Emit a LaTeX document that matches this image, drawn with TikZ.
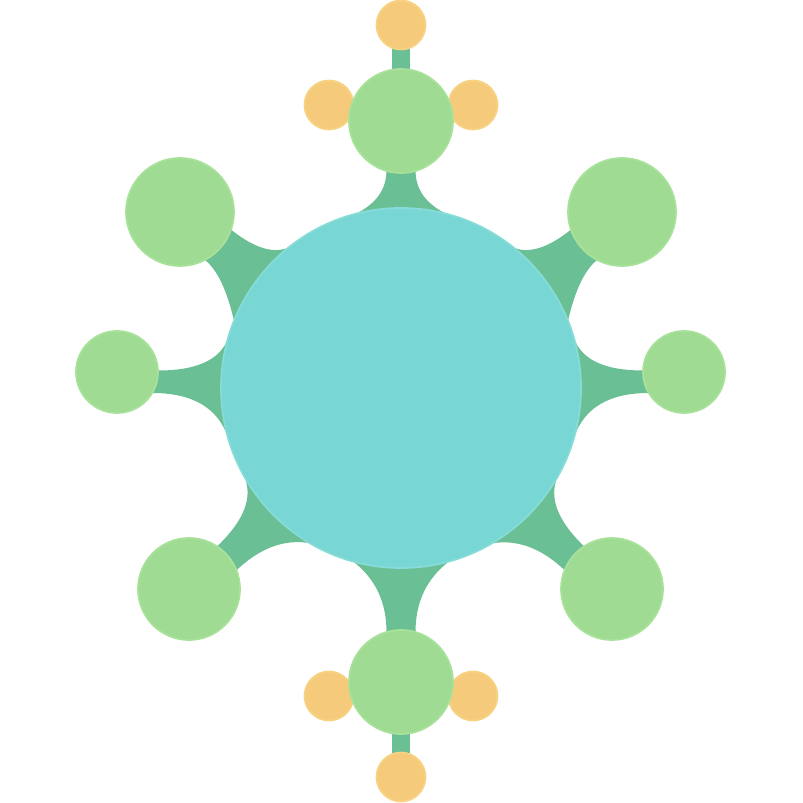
\documentclass[tikz,border=0pt]{standalone}
\definecolor{hubc}{HTML}{78D6D4}
\definecolor{hubedge}{HTML}{86DCD6}
\definecolor{leafc}{HTML}{A0DB93}
\definecolor{leafedge}{HTML}{A8E19A}
\definecolor{linkcol}{HTML}{6BBF94}
\definecolor{budc}{HTML}{F5CA7B}
\definecolor{budedge}{HTML}{F8D283}
\tikzset{
  hub/.style={circle, inner sep=0pt, outer sep=0pt, fill=hubc, draw=hubedge, line width=0.5pt, minimum size=3.6cm},
  leaf/.style={circle, inner sep=0pt, outer sep=0pt, fill=leafc, draw=leafedge, line width=0.5pt},
  bud/.style={circle, inner sep=0pt, outer sep=0pt, fill=budc, draw=budedge, line width=0.5pt, minimum size=0.49cm},
  linkfill/.style={fill=linkcol},
}
% flared bridge from the hub towards a satellite (all lengths in px, 100px = 1cm)
% #1 direction; side A (left of direction): #2 start along, #3 half width, #4 offset on hub, #5 control shift;
% side B (right of direction): #6..#9 the same
\newcommand\hubbridge[9]{%
  \pgfmathsetmacro\LA{#2/100}\pgfmathsetmacro\wA{#3/100}\pgfmathsetmacro\oA{#4/100}\pgfmathsetmacro\sA{#5/100}%
  \pgfmathsetmacro\LB{#6/100}\pgfmathsetmacro\wB{#7/100}\pgfmathsetmacro\oB{#8/100}\pgfmathsetmacro\sB{#9/100}%
  \pgfmathsetmacro\tA{sqrt(3.24-\oA*\oA)}\pgfmathsetmacro\tB{sqrt(3.24-\oB*\oB)}%
  \pgfmathsetmacro\qA{\tA+\sA}\pgfmathsetmacro\qB{\tB+\sB}%
  \pgfmathsetmacro\cAx{\LA+2/3*(\qA-\LA)}\pgfmathsetmacro\dAx{\tA+2/3*\sA}\pgfmathsetmacro\dAy{\oA+2/3*(\wA-\oA)}%
  \pgfmathsetmacro\cBx{\LB+2/3*(\qB-\LB)}\pgfmathsetmacro\dBx{\tB+2/3*\sB}\pgfmathsetmacro\dBy{\oB+2/3*(\wB-\oB)}%
  \begin{scope}[shift={(hub.center)}, rotate=#1]
    \fill[linkfill] (0,0) -- (\tA,\oA)
      .. controls (\dAx,\dAy) and (\cAx,\wA) .. (\LA,\wA)
      -- (\LA+0.25,\wA) -- (\LB+0.25,-\wB) -- (\LB,-\wB)
      .. controls (\cBx,-\wB) and (\dBx,-\dBy) .. (\tB,-\oB) -- cycle;
  \end{scope}}
\begin{document}
\begin{tikzpicture}[x=1cm,y=1cm]
\useasboundingbox (0,0) rectangle (8.03,8.03);
\coordinate (hub) at (4.01,4.15);
% connectors
\hubbridge{90}{217.1}{14.6}{45}{15.2}{217.1}{14.6}{45}{15.2}
\hubbridge{270}{244.1}{14.5}{48}{25.5}{244.1}{14.5}{48}{25.5}
\hubbridge{141.47}{233.2}{22}{51.5}{37}{231.6}{18}{39.5}{12}
\hubbridge{38.53}{231.6}{18}{39.5}{12}{233.2}{22}{51.5}{37}
\hubbridge{180}{248.8}{5}{48.7}{15.4}{243}{17.5}{55}{8.6}
\hubbridge{0}{242}{17.5}{55}{8.6}{247.8}{5}{48.7}{15.4}
\hubbridge{223.47}{244.5}{19.1}{49.9}{23}{243}{11.6}{44}{11.5}
\hubbridge{316.4}{243}{11.6}{44}{11.5}{244.5}{19.1}{49.9}{23}
% stems to the small circles
\fill[linkfill] (3.917,6.82) rectangle (4.103,7.78);
\fill[linkfill] (3.917,0.26) rectangle (4.103,1.21);
% central circle
\node[hub] (centre) at (hub) {};
% small orange circles
\node[bud] (t0) at (4.01,7.78) {};
\node[bud] (t1) at (3.29,6.98) {};
\node[bud] (t2) at (4.73,6.98) {};
\node[bud] (b0) at (4.01,0.26) {};
\node[bud] (b1) at (3.29,1.07) {};
\node[bud] (b2) at (4.73,1.07) {};
% green satellites
\node[leaf, minimum size=1.04cm] (top) at (4.01,6.82) {};
\node[leaf, minimum size=1.04cm] (bottom) at (4.01,1.21) {};
\node[leaf, minimum size=1.08cm] (ul) at (1.80,5.91) {};
\node[leaf, minimum size=1.08cm] (ur) at (6.22,5.91) {};
\node[leaf, minimum size=0.82cm] (l) at (1.17,4.31) {};
\node[leaf, minimum size=0.82cm] (r) at (6.84,4.31) {};
\node[leaf, minimum size=1.02cm] (ll) at (1.89,2.14) {};
\node[leaf, minimum size=1.02cm] (lr) at (6.12,2.14) {};
\end{tikzpicture}
\end{document}
